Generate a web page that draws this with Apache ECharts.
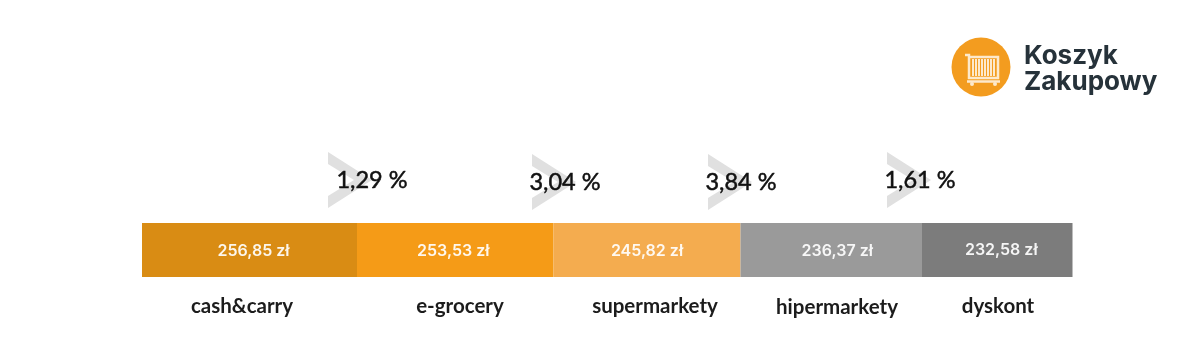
<!DOCTYPE html>
<html>
<head>
<meta charset="utf-8">
<title>Koszyk Zakupowy</title>
<style>
  html, body { margin: 0; padding: 0; background: #fff; }
  #main { width: 1200px; height: 362px; }
</style>
<script src="https://cdn.jsdelivr.net/npm/echarts@6/dist/echarts.min.js"></script>
</head>
<body>
<div id="main"></div>
<script>
var categories = ['cash&carry', 'e-grocery', 'supermarkety', 'hipermarkety', 'dyskont'];
var prices = ['256,85 zł', '253,53 zł', '245,82 zł', '236,37 zł', '232,58 zł'];
// the bars in the picture are not proportional to price, these are the drawn segment lengths
var segments = [215, 196.5, 187, 181.5, 150.5];
var changes = ['1,29 %', '3,04 %', '3,84 %', '1,61 %'];
var colors = ['#d98c14', '#f59b17', '#f4ac4f', '#9a9a9a', '#7c7c7c'];

var font = 'Lato';
var chart = echarts.init(document.getElementById('main'), null, { renderer: 'canvas' });

// price labels sit a little off centre in the original
var priceShift = [[4, 1], [-2, 1], [0, 1], [6, 1], [4, 0]];

var series = segments.map(function (v, i) {
  return {
    name: categories[i],
    type: 'bar',
    stack: 'all',
    barWidth: '100%',
    silent: true,
    data: [v],
    itemStyle: { color: colors[i] },
    label: {
      show: true,
      position: 'inside',
      offset: priceShift[i],
      formatter: prices[i],
      color: '#fff',
      fontFamily: 'Inter',
      fontSize: 16,
      fontWeight: 600,
      opacity: 0.92
    }
  };
});

function text(str, x, y, size, weight, color, stroke) {
  var style = {
    text: str, fill: color, fontFamily: font, fontSize: size, fontWeight: weight,
    textAlign: 'center', textVerticalAlign: 'middle'
  };
  if (stroke) {
    style.stroke = color;
    style.lineWidth = stroke;
  }
  return { type: 'text', x: x, y: y, z: 10, style: style };
}

function chevron(x, y) {
  return {
    type: 'polygon', z: 1,
    shape: { points: [[x, y], [x + 44, y + 28], [x, y + 56], [x, y + 44], [x + 26, y + 28], [x, y + 12]] },
    style: { fill: '#e0e0e0' }
  };
}

var chevrons = [[328, 152], [532, 154], [708, 154], [887, 152]];
var changePos = [[372, 180], [565, 182], [741, 182], [920, 180]];
var labelPos = [[242, 306], [460, 306], [655, 306], [837, 307], [998, 306]];

var graphics = [];
chevrons.forEach(function (p) { graphics.push(chevron(p[0], p[1])); });
changes.forEach(function (c, i) {
  graphics.push(text(c, changePos[i][0], changePos[i][1], 23.5, 'normal', '#111', 0.5));
});
categories.forEach(function (c, i) {
  graphics.push(text(c, labelPos[i][0], labelPos[i][1], 20.5, 'bold', '#1c1c1c'));
});

// logo
var cartInk = '#fde9cc';
graphics.push({ type: 'circle', shape: { cx: 981, cy: 67, r: 29.5 }, style: { fill: '#f39c1f' } });
graphics.push({ type: 'polyline', shape: { points: [[965, 55], [969, 55], [969, 78], [998, 78], [998, 57], [969, 57]] },
  style: { stroke: cartInk, fill: null, lineWidth: 2.5 } });
[973, 976, 979, 982, 985, 988, 991, 994].forEach(function (x) {
  graphics.push({ type: 'line', shape: { x1: x, y1: 59, x2: x, y2: 76 }, style: { stroke: cartInk, lineWidth: 2 } });
});
graphics.push({ type: 'line', shape: { x1: 967, y1: 81.5, x2: 1000, y2: 81.5 }, style: { stroke: cartInk, lineWidth: 2.5 } });
graphics.push({ type: 'circle', shape: { cx: 972, cy: 84, r: 2 }, style: { fill: cartInk } });
graphics.push({ type: 'circle', shape: { cx: 995, cy: 84, r: 2 }, style: { fill: cartInk } });
graphics.push({
  type: 'text', x: 1024, y: 56,
  style: { text: 'Koszyk', fill: '#26323a', fontFamily: 'Inter', fontSize: 26, fontWeight: 700, textVerticalAlign: 'middle' }
});
graphics.push({
  type: 'text', x: 1024, y: 82,
  style: { text: 'Zakupowy', fill: '#26323a', fontFamily: 'Inter', fontSize: 26, fontWeight: 700, textVerticalAlign: 'middle' }
});

var option = {
  animation: false,
  backgroundColor: '#fff',
  grid: { left: 142, top: 223, width: 930.5, height: 54 },
  xAxis: { type: 'value', min: 0, max: 930.5, show: false },
  yAxis: { type: 'category', data: ['koszyk'], show: false },
  series: series,
  graphic: graphics
};
chart.setOption(option);
</script>
</body>
</html>
